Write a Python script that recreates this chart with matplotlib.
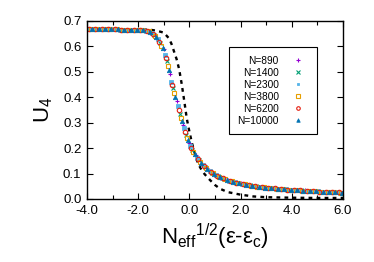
import numpy as np
import matplotlib
matplotlib.use("Agg")
import matplotlib.pyplot as plt

plt.rcParams['font.family'] = ['Liberation Sans', 'DejaVu Sans']
plt.rcParams['mathtext.fontset'] = 'custom'
plt.rcParams['mathtext.rm'] = 'Liberation Sans'
plt.rcParams['mathtext.it'] = 'Liberation Sans:italic'

# scaled variable Neff^1/2 (eps - eps_c) and Binder cumulant U4 for each size
x_890 = [-4.0, -3.75, -3.5, -3.25, -3.0, -2.75, -2.5, -2.25, -2.0, -1.75, -1.5, -1.25, -1.0, -0.75,
         -0.5, -0.25, 0.0, 0.25, 0.5, 0.75, 1.0, 1.25, 1.5, 1.75, 2.0, 2.25, 2.5, 2.75, 3.0, 3.25,
         3.5, 3.75, 4.0, 4.25, 4.5, 4.75, 5.0, 5.25, 5.5, 5.75, 6.0]
u_890 = [.667, .667, .667, .667, .667, .666, .666, .666, .665, .662, .656, .634, .588, .492,
         .385, .291, .220, .171, .137, .114, .097, .085, .075, .067, .061, .056, .052, .049, .046, .043,
         .041, .039, .037, .035, .034, .032, .031, .029, .028, .027, .026]

x_1400 = [-3.88, -3.63, -3.38, -3.13, -2.88, -2.63, -2.38, -2.13, -1.88, -1.63, -1.38, -1.13, -0.88, -0.63,
          -0.38, -0.13, 0.12, 0.37, 0.62, 0.87, 1.12, 1.37, 1.62, 1.87, 2.12, 2.37, 2.62, 2.87, 3.12, 3.37,
          3.62, 3.87, 4.12, 4.37, 4.62, 4.87, 5.12, 5.37, 5.62, 5.87]
u_1400 = [.667, .667, .667, .667, .667, .666, .666, .665, .664, .660, .646, .612, .542, .435,
          .336, .253, .193, .152, .124, .104, .090, .079, .070, .063, .058, .054, .050, .046, .044, .041,
          .039, .037, .035, .034, .032, .031, .029, .028, .027, .025]

x_2300 = [-3.96, -3.71, -3.46, -3.21, -2.96, -2.71, -2.46, -2.21, -1.96, -1.71, -1.46, -1.21, -0.96, -0.71,
          -0.46, -0.21, 0.04, 0.29, 0.54, 0.79, 1.04, 1.29, 1.54, 1.79, 2.04, 2.29, 2.54, 2.79, 3.04, 3.29,
          3.54, 3.79, 4.04, 4.29, 4.54, 4.79, 5.04, 5.29, 5.54, 5.79]
u_2300 = [.667, .667, .667, .667, .667, .666, .666, .666, .665, .661, .652, .628, .568, .459,
          .366, .279, .209, .163, .132, .110, .094, .082, .072, .065, .059, .054, .051, .047, .044, .042,
          .040, .038, .036, .034, .032, .031, .030, .028, .027, .026]

x_3800 = [-3.84, -3.59, -3.34, -3.09, -2.84, -2.59, -2.34, -2.09, -1.84, -1.59, -1.34, -1.09, -0.84, -0.59,
          -0.34, -0.09, 0.16, 0.41, 0.66, 0.91, 1.16, 1.41, 1.66, 1.91, 2.16, 2.41, 2.66, 2.91, 3.16, 3.41,
          3.66, 3.91, 4.16, 4.41, 4.66, 4.91, 5.16, 5.41, 5.66, 5.91]
u_3800 = [.667, .667, .667, .667, .667, .666, .666, .665, .663, .659, .642, .603, .523, .416,
          .320, .240, .185, .147, .121, .101, .088, .078, .069, .062, .057, .053, .049, .046, .043, .041,
          .039, .037, .035, .033, .032, .030, .029, .028, .026, .025]

x_6200 = [-3.92, -3.67, -3.42, -3.17, -2.92, -2.67, -2.42, -2.17, -1.92, -1.67, -1.42, -1.17, -0.92, -0.67,
          -0.42, -0.17, 0.08, 0.33, 0.58, 0.83, 1.08, 1.33, 1.58, 1.83, 2.08, 2.33, 2.58, 2.83, 3.08, 3.33,
          3.58, 3.83, 4.08, 4.33, 4.58, 4.83, 5.08, 5.33, 5.58, 5.83]
u_6200 = [.667, .667, .667, .667, .667, .666, .666, .666, .664, .661, .650, .619, .555, .450,
          .350, .263, .200, .158, .128, .107, .092, .081, .072, .064, .059, .055, .050, .047, .044, .042,
          .039, .037, .036, .034, .032, .031, .029, .028, .027, .026]

x_10000 = [-3.80, -3.55, -3.30, -3.05, -2.80, -2.55, -2.30, -2.05, -1.80, -1.55, -1.30, -1.05, -0.80, -0.55,
           -0.30, -0.05, 0.20, 0.45, 0.70, 0.95, 1.20, 1.45, 1.70, 1.95, 2.20, 2.45, 2.70, 2.95, 3.20, 3.45,
           3.70, 3.95, 4.20, 4.45, 4.70, 4.95, 5.20, 5.45, 5.70, 5.95]
u_10000 = [.667, .667, .667, .667, .667, .666, .666, .665, .663, .657, .638, .594, .507, .400,
           .305, .230, .178, .142, .117, .099, .086, .076, .068, .061, .056, .052, .048, .045, .043, .040,
           .038, .036, .035, .033, .031, .030, .029, .027, .026, .025]

# dashed reference curve
x_dash = [-4.0, -3.0, -2.0, -1.5, -1.25, -1.0, -0.8, -0.7, -0.6, -0.5, -0.4, -0.3, -0.2, -0.1, 0.0,
          0.1, 0.2, 0.3, 0.4, 0.5, 0.6, 0.8, 1.0, 1.2, 1.5, 2.0, 2.5, 3.0, 4.0, 5.0, 6.0]
u_dash = [.667, .667, .667, .665, .661, .654, .632, .610, .580, .550, .510, .452, .385, .315, .265,
          .220, .183, .150, .128, .110, .097, .075, .055, .040, .027, .017, .010, .007, .005, .004, .004]

labels = ['N=890', 'N=1400', 'N=2300', 'N=3800', 'N=6200', 'N=10000']
xs = [x_890, x_1400, x_2300, x_3800, x_6200, x_10000]
us = [u_890, u_1400, u_2300, u_3800, u_6200, u_10000]
colors = ['#9400d3', '#009e73', '#56b4e9', '#e69f00', '#e51e10', '#0072b2']
markers = ['+', 'x', 's', 's', 'o', '^']

fig = plt.figure(figsize=(3.74, 2.62), dpi=100)
ax = fig.add_axes([0.2326, 0.2405, 0.6845, 0.6795])

ax.plot(x_dash, u_dash, color='black', lw=1.7, dashes=(1.6, 1.8), zorder=1)

for i in range(len(labels)):
    if i == 2:
        # gnuplot star symbol, drawn as a small filled square
        ax.plot(xs[i], us[i], ls='none', marker='s', ms=2.4, mfc=colors[i], mec=colors[i],
                mew=0.6, label=labels[i], zorder=2)
    elif markers[i] in ('s', 'o'):
        ax.plot(xs[i], us[i], ls='none', marker=markers[i], ms=3.2, mfc='none', mec=colors[i],
                mew=0.8, label=labels[i], zorder=2)
    elif markers[i] == '^':
        ax.plot(xs[i], us[i], ls='none', marker='^', ms=3.2, mfc=colors[i], mec=colors[i],
                mew=0.5, label=labels[i], zorder=2)
    else:
        ax.plot(xs[i], us[i], ls='none', marker=markers[i], ms=3.2, color=colors[i],
                mew=0.8, label=labels[i], zorder=2)

ax.set_xlim(-4, 6)
ax.set_ylim(0, 0.7)
ax.set_xticks([-4, -2, 0, 2, 4, 6])
ax.set_xticklabels(['-4.0', '-2.0', '0.0', '2.0', '4.0', '6.0'])
ax.set_xticks([-3, -1, 1, 3, 5], minor=True)
ax.set_yticks([0, 0.1, 0.2, 0.3, 0.4, 0.5, 0.6, 0.7])
ax.set_yticklabels(['0.0', '0.1', '0.2', '0.3', '0.4', '0.5', '0.6', '0.7'])
ax.tick_params(which='both', direction='in', top=True, right=True, labelsize=9.5, width=0.8)
ax.tick_params(which='major', length=4.5, pad=4)
ax.tick_params(which='minor', length=3)
for s in ax.spines.values():
    s.set_linewidth(1.0)

ax.set_ylabel('U$_4$', fontsize=16, labelpad=6)
ax.set_xlabel(r'N$_\mathregular{eff}$${}^\mathregular{1/2}$(ε-ε$_\mathregular{c}$)', fontsize=16, labelpad=4)

leg = ax.legend(loc='upper right', bbox_to_anchor=(0.898, 0.854), markerfirst=False, fontsize=7.3,
                frameon=True, fancybox=False, edgecolor='black', framealpha=1,
                handlelength=2, handletextpad=0.9, borderpad=0.85, labelspacing=0.2,
                borderaxespad=0, markerscale=0.8)
leg.get_frame().set_linewidth(0.8)

fig.savefig('out.png', dpi=100)
